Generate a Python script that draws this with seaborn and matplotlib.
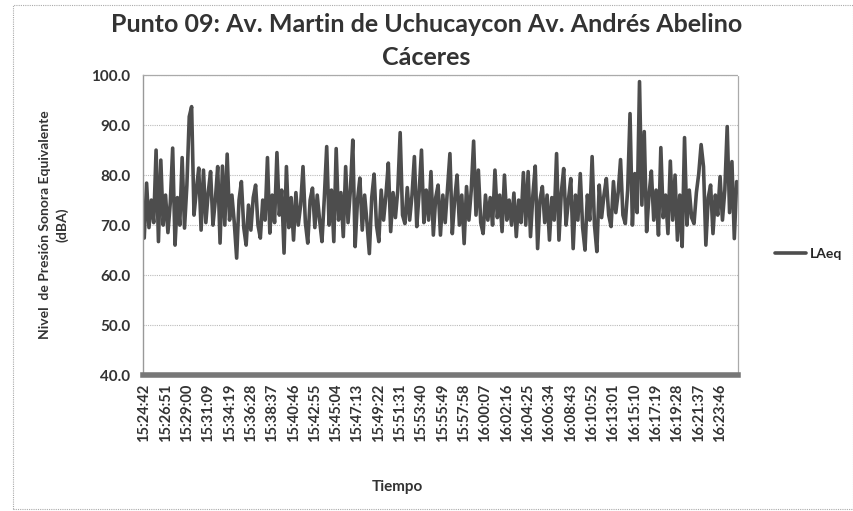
import numpy as np
import pandas as pd
import seaborn as sns
import matplotlib.pyplot as plt
from matplotlib.patches import Rectangle

# LAeq (dBA), one reading per sample
laeq = [
    67.4, 78.4, 69.5, 75.0, 70.5, 85.0, 66.7, 83.0, 70.0, 76.0,
    68.5, 74.5, 85.4, 66.0, 75.5, 70.0, 83.5, 69.4, 78.0, 91.7,
    93.7, 72.0, 77.0, 81.4, 69.0, 81.0, 70.5, 76.5, 80.7, 70.0,
    75.0, 81.7, 66.4, 81.8, 70.0, 84.2, 71.0, 76.0, 70.5, 63.4,
    75.0, 78.7, 69.5, 66.0, 74.0, 69.0, 75.5, 78.0, 70.0, 67.4,
    75.0, 71.0, 83.5, 68.4, 76.0, 70.5, 84.5, 72.0, 77.0, 64.4,
    81.7, 69.5, 75.5, 67.0, 76.5, 70.0, 74.0, 81.7, 70.5, 66.4,
    75.0, 77.4, 69.5, 76.0, 71.0, 66.7, 75.5, 85.7, 70.0, 77.0,
    66.7, 85.3, 71.0, 76.5, 67.7, 81.7, 70.5, 77.0, 87.0, 65.7,
    75.0, 79.4, 69.0, 76.0, 70.5, 64.3, 75.5, 80.2, 70.0, 66.7,
    77.0, 71.0, 76.0, 82.4, 68.7, 76.5, 71.5, 77.0, 88.5, 72.0,
    70.3, 77.5, 71.0, 76.0, 83.7, 69.7, 76.5, 85.0, 70.5, 77.0,
    71.0, 80.7, 68.0, 75.5, 78.0, 68.0, 76.0, 70.5, 77.5, 84.3,
    68.3, 75.0, 80.0, 70.0, 76.0, 66.3, 77.7, 71.0, 77.0, 86.8,
    72.0, 81.0, 70.5, 68.3, 76.0, 71.0, 75.5, 70.0, 81.0, 71.5,
    76.0, 68.7, 80.0, 71.0, 75.0, 70.0, 76.4, 67.7, 75.0, 70.5,
    80.5, 70.0, 80.7, 67.7, 76.0, 81.8, 65.3, 75.0, 77.7, 70.5,
    76.0, 67.0, 75.5, 71.0, 84.3, 67.0, 76.5, 81.3, 70.0, 75.0,
    79.3, 65.3, 76.0, 71.0, 80.3, 69.5, 65.0, 76.0, 71.0, 83.7,
    70.0, 64.7, 78.0, 71.5, 76.0, 79.3, 72.0, 69.7, 78.7, 72.5,
    76.5, 83.1, 72.0, 70.3, 77.0, 92.3, 70.0, 80.3, 72.5, 98.7,
    74.0, 88.7, 68.7, 76.0, 80.8, 71.0, 77.0, 68.0, 85.5, 71.5,
    76.0, 68.3, 82.8, 71.0, 80.0, 67.0, 76.0, 65.7, 87.5, 70.0,
    77.0, 71.5, 70.3, 76.5, 80.3, 86.1, 81.7, 66.0, 75.5, 78.0,
    68.3, 76.0, 72.0, 79.7, 71.0, 77.0, 89.7, 72.5, 82.7, 67.3,
    78.7,
]

time_labels = [
    "15:24:42", "15:26:51", "15:29:00", "15:31:09", "15:34:19", "15:36:28",
    "15:38:37", "15:40:46", "15:42:55", "15:45:04", "15:47:13", "15:49:22",
    "15:51:31", "15:53:40", "15:55:49", "15:57:58", "16:00:07", "16:02:16",
    "16:04:25", "16:06:34", "16:08:43", "16:10:52", "16:13:01", "16:15:10",
    "16:17:19", "16:19:28", "16:21:37", "16:23:46",
]
label_step = 9  # samples between shown time labels

df = pd.DataFrame({"muestra": np.arange(len(laeq)), "LAeq": laeq})

sns.set_style("white")
plt.rcParams['font.family'] = ['Lato', 'DejaVu Sans']

fig = plt.figure(figsize=(8.54, 5.11), dpi=100)
ax = fig.add_axes([0.1675, 0.266, 0.6965, 0.587])

sns.lineplot(data=df, x="muestra", y="LAeq", ax=ax, color="#4d4d4d",
             linewidth=2.6, label="LAeq", legend=False)

ax.set_xlim(-0.5, len(laeq) - 0.5)
ax.set_ylim(40, 100)
ax.set_yticks(np.arange(40, 101, 10))
ax.set_yticklabels([f"{v:.1f}" for v in np.arange(40, 101, 10)],
                   fontsize=11, fontweight="bold", color="#333333")
ax.set_xticks(np.arange(len(time_labels)) * label_step)
ax.set_xticklabels(time_labels, rotation=90, fontsize=10.5,
                   fontweight="bold", color="#333333")
ax.tick_params(axis="y", length=5, color="#999999", pad=4)
ax.tick_params(axis="x", length=0, pad=6)

for v in range(50, 101, 10):
    ax.axhline(v, color="#bbbbbb", linestyle=(0, (1, 1)), linewidth=0.8, zorder=0)

ax.spines["left"].set_color("#999999")
ax.spines["left"].set_linewidth(1.0)
ax.spines["bottom"].set_color("#777777")
ax.spines["bottom"].set_linewidth(4)
for s in ["top", "right"]:
    ax.spines[s].set_color("#aaaaaa")
    ax.spines[s].set_linestyle((0, (1, 1)))
    ax.spines[s].set_linewidth(0.9)

ax.set_xlabel("")
ax.set_ylabel("")
fig.text(0.063, 0.56, "Nivel  de Presión Sonora Equivalente\n(dBA)",
         rotation=90, fontsize=10, fontweight="bold", color="#333333",
         ha="center", va="center", multialignment="center", linespacing=1.5)

fig.text(0.465, 0.047, "Tiempo", fontsize=11, fontweight="bold",
         color="#333333", ha="center", va="center")

fig.text(0.499, 0.952, "Punto 09: Av. Martin de Uchucaycon Av. Andrés Abelino",
         fontsize=18, fontweight="bold", color="#333333", ha="center", va="center")
fig.text(0.499, 0.888, "Cáceres", fontsize=18, fontweight="bold",
         color="#333333", ha="center", va="center")

handles, labels = ax.get_legend_handles_labels()
fig.legend(handles, labels, loc="center left", bbox_to_anchor=(0.893, 0.503),
           frameon=False, handlelength=2.2, handletextpad=0.3,
           prop={"weight": "bold", "size": 10})

fig.patches.append(Rectangle((0.015, 0.003), 0.984, 0.987, transform=fig.transFigure,
                             fill=False, edgecolor="#aaaaaa",
                             linestyle=(0, (1, 1)), linewidth=0.8))

plt.savefig("out.png", dpi=100)
